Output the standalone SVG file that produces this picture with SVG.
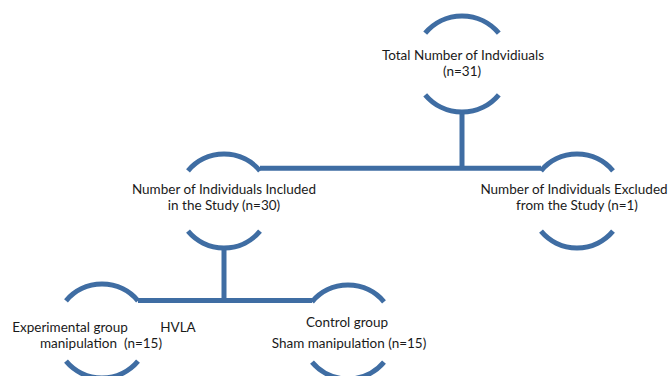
<svg xmlns="http://www.w3.org/2000/svg" width="670" height="376" viewBox="0 0 670 376">
<style>
.arc{fill:none;stroke:#3f6da3;stroke-width:5;stroke-linecap:butt}
.con{fill:none;stroke:#3f6da3;stroke-width:5}
text{font-family:Lato,"Open Sans",sans-serif;font-size:13.5px;fill:#1a1a1a;text-anchor:middle}
.pre{white-space:pre}
</style>
<rect width="670" height="376" fill="#ffffff"/>
<g id="connectors">
<path class="con" d="M462 111 V168.3"/>
<path class="con" d="M260 168.3 H541"/>
<path class="con" d="M224 247 V300.5"/>
<path class="con" d="M138 300.5 H312"/>
</g>
<g id="node-total">
<path class="arc" d="M425.2 33.1 A48 48 0 0 1 498.8 33.1"/>
<path class="arc" d="M425.2 94.9 A48 48 0 0 0 498.8 94.9"/>
<text x="463" y="60">Total Number of Indvidiuals</text>
<text x="462" y="76">(n=31)</text>
</g>
<g id="node-included">
<path class="arc" d="M188 170.8 A47 47 0 0 1 260 170.8"/>
<path class="arc" d="M188 231.2 A47 47 0 0 0 260 231.2"/>
<text x="224" y="194">Number of Individuals Included</text>
<text x="224" y="210">in the Study (n=30)</text>
</g>
<g id="node-excluded">
<path class="arc" d="M541 170.8 A47 47 0 0 1 613 170.8"/>
<path class="arc" d="M541 231.2 A47 47 0 0 0 613 231.2"/>
<text x="574" y="194">Number of Individuals Excluded</text>
<text x="577" y="210">from the Study (n=1)</text>
</g>
<g id="node-experimental">
<path class="arc" d="M66 300.8 A47 47 0 0 1 138 300.8"/>
<path class="arc" d="M66 361.2 A47 47 0 0 0 138 361.2"/>
<text x="70" y="332">Experimental group</text>
<text x="178" y="332">HVLA</text>
<text class="pre" x="101" y="348" xml:space="preserve">manipulation  (n=15)</text>
</g>
<g id="node-control">
<path class="arc" d="M312 301.8 A47 47 0 0 1 384 301.8"/>
<path class="arc" d="M312 362.2 A47 47 0 0 0 384 362.2"/>
<text x="347" y="327">Control group</text>
<text x="349" y="348">Sham manipulation (n=15)</text>
</g>
</svg>
